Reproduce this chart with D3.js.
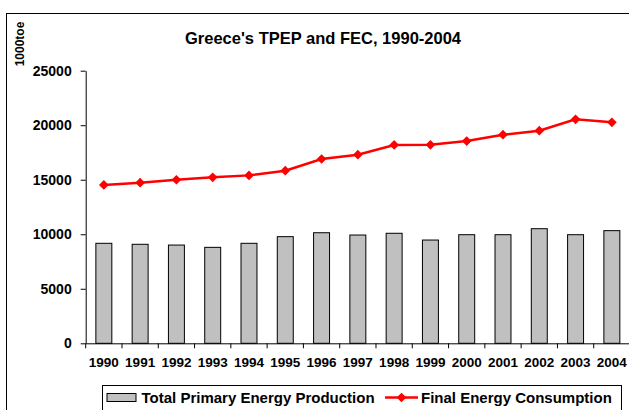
<!DOCTYPE html>
<html>
<head>
<meta charset="utf-8">
<script src="https://cdn.jsdelivr.net/npm/d3@7"></script>
<style>
  body { margin: 0; background: #fff; }
  svg text { font-family: "Liberation Sans", Arial, sans-serif; font-weight: bold; fill: #000; }
</style>
</head>
<body>
<div id="chart"></div>
<script>
var years = ['1990', '1991', '1992', '1993', '1994', '1995', '1996', '1997',
  '1998', '1999', '2000', '2001', '2002', '2003', '2004'];
var tpep = [9170, 9080, 9010, 8800, 9170, 9780, 10140, 9930,
  10090, 9470, 9960, 9960, 10510, 9960, 10330];
var fec = [14520, 14730, 15000, 15220, 15400, 15830, 16900, 17300,
  18190, 18200, 18550, 19130, 19500, 20540, 20270];
var yTicks = [0, 5000, 10000, 15000, 20000, 25000];

var width = 629;
var height = 410;

var svg = d3.select('#chart').append('svg')
  .attr('width', width)
  .attr('height', height);

// outer chart border (runs off the right and bottom edge)
svg.append('rect')
  .attr('x', 6.5)
  .attr('y', 13.5)
  .attr('width', 700)
  .attr('height', 500)
  .style('fill', 'none')
  .style('stroke', '#000')
  .style('stroke-width', 1);

// title
svg.append('text')
  .attr('x', 323)
  .attr('y', 43.5)
  .attr('text-anchor', 'middle')
  .style('font-size', '16.5px')
  .text("Greece's TPEP and FEC, 1990-2004");

// y axis title
svg.append('text')
  .attr('transform', 'translate(23.5,44) rotate(-90)')
  .attr('text-anchor', 'middle')
  .style('font-size', '12px')
  .text('1000toe');

// scales
var xScale = d3.scaleBand()
  .domain(years)
  .range([85.7, 630]);

var yScale = d3.scaleLinear()
  .domain([0, 25000])
  .range([343.3, 70.7]);

// y axis
var yAxis = d3.axisLeft(yScale)
  .tickValues(yTicks)
  .tickSize(5)
  .tickSizeOuter(0)
  .tickPadding(9)
  .tickFormat(d3.format('d'));

var gy = svg.append('g')
  .attr('transform', 'translate(85.7,0)')
  .call(yAxis);
gy.selectAll('text').style('font-size', '14px');
gy.selectAll('line, path').style('stroke', '#000');

// bars
var barW = xScale.bandwidth() * 0.44;
svg.selectAll('.bar')
  .data(tpep)
  .enter()
  .append('rect')
  .attr('class', 'bar')
  .attr('x', function(d, i) {
    return xScale(years[i]) + (xScale.bandwidth() - barW) / 2;
  })
  .attr('y', function(d) { return yScale(d); })
  .attr('width', barW)
  .attr('height', function(d) { return yScale(0) - yScale(d); })
  .style('fill', '#C0C0C0')
  .style('stroke', '#000')
  .style('stroke-width', 1);

// x axis: ticks between categories, labels at centres
var xAxis = d3.axisBottom(xScale)
  .tickSize(0)
  .tickPadding(14)
  .tickSizeOuter(0);

var gx = svg.append('g')
  .attr('transform', 'translate(0,' + yScale(0) + ')')
  .call(xAxis);
gx.select('path').style('stroke', '#000');
gx.selectAll('text').style('font-size', '13.5px');

gx.selectAll('.sep')
  .data(years)
  .enter()
  .append('line')
  .attr('x1', function(d) { return xScale(d); })
  .attr('x2', function(d) { return xScale(d); })
  .attr('y1', 0)
  .attr('y2', 5)
  .style('stroke', '#000');

// FEC line
var line = d3.line()
  .x(function(d, i) { return xScale(years[i]) + xScale.bandwidth() / 2; })
  .y(function(d) { return yScale(d); });

svg.append('path')
  .datum(fec)
  .attr('d', line)
  .style('fill', 'none')
  .style('stroke', '#FF0000')
  .style('stroke-width', 2.5);

var diamond = d3.symbol().type(d3.symbolDiamond2).size(60);

svg.selectAll('.marker')
  .data(fec)
  .enter()
  .append('path')
  .attr('class', 'marker')
  .attr('d', diamond)
  .attr('transform', function(d, i) {
    return 'translate(' + (xScale(years[i]) + xScale.bandwidth() / 2) + ',' + yScale(d) + ')';
  })
  .style('fill', '#FF0000');

// legend
var legend = svg.append('g');

legend.append('rect')
  .attr('x', 102.5)
  .attr('y', 385.5)
  .attr('width', 519)
  .attr('height', 60)
  .style('fill', '#fff')
  .style('stroke', '#000');

legend.append('rect')
  .attr('x', 107)
  .attr('y', 393.5)
  .attr('width', 29)
  .attr('height', 8)
  .style('fill', '#C0C0C0')
  .style('stroke', '#000');

legend.append('text')
  .attr('x', 141.5)
  .attr('y', 403)
  .style('font-size', '15px')
  .text('Total Primary Energy Production');

legend.append('line')
  .attr('x1', 385)
  .attr('x2', 418)
  .attr('y1', 397.5)
  .attr('y2', 397.5)
  .style('stroke', '#FF0000')
  .style('stroke-width', 2.5);

legend.append('path')
  .attr('d', diamond)
  .attr('transform', 'translate(401.5,397.5)')
  .style('fill', '#FF0000');

legend.append('text')
  .attr('x', 421)
  .attr('y', 403)
  .style('font-size', '15px')
  .text('Final Energy Consumption');
</script>
</body>
</html>
